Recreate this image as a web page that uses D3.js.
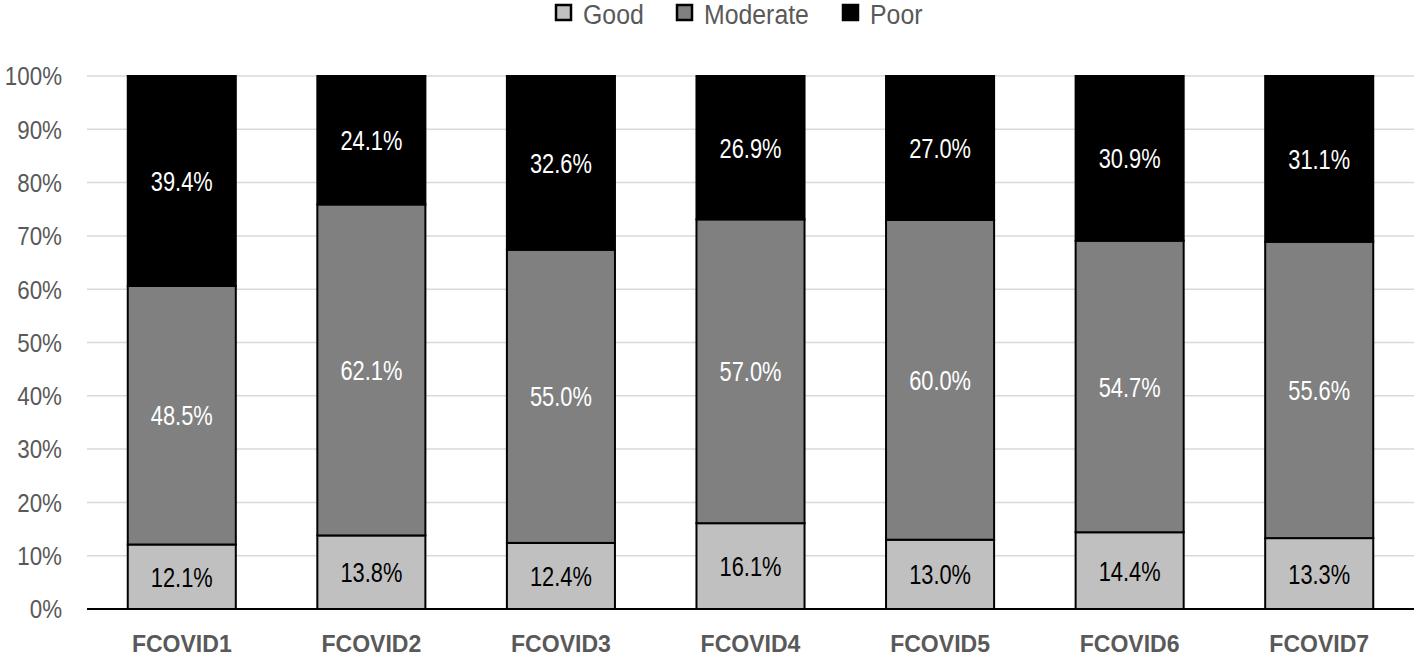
<!DOCTYPE html>
<html><head><meta charset="utf-8">
<script src="https://cdn.jsdelivr.net/npm/d3@7"></script>
<style>body{margin:0;background:#fff}svg{display:block}text{font-family:"Liberation Sans",Arial,sans-serif}</style>
</head><body><svg id="c" width="1416" height="659"></svg>
<script>
const categories = ["FCOVID1","FCOVID2","FCOVID3","FCOVID4","FCOVID5","FCOVID6","FCOVID7"];
const seriesNames = ["Good","Moderate","Poor"];
const good = [12.1,13.8,12.4,16.1,13.0,14.4,13.3];
const moderate = [48.5,62.1,55.0,57.0,60.0,54.7,55.6];
const poor = [39.4,24.1,32.6,26.9,27.0,30.9,31.1];
const yTicks = [0,10,20,30,40,50,60,70,80,90,100];
const colors = {Good:"#c0c0c0", Moderate:"#808080", Poor:"#000000"};
const labelColors = {Good:"#000", Moderate:"#fff", Poor:"#fff"};

const svg = d3.select("#c");
const m = {l:87, r:2};
const W = 1416;
const x = d3.scaleBand().domain(categories).range([m.l, W-m.r]).paddingInner(0.43).paddingOuter(0.215);
const y = d3.scaleLinear().domain([0,100]).range([609, 76]);

const rows = categories.map((c,i)=>({cat:c, Good:good[i], Moderate:moderate[i], Poor:poor[i]}));
const stack = d3.stack().keys(seriesNames)(rows);
const tf = (px,py,sx)=>`translate(${px},${py}) scale(${sx},1)`;

// gridlines
svg.append("g").selectAll("line").data(yTicks.filter(d=>d>0)).join("line")
  .attr("x1", m.l).attr("x2", W-m.r).attr("y1", d=>y(d)).attr("y2", d=>y(d))
  .attr("stroke","#d9d9d9").attr("stroke-width",1.5);

// y tick labels
svg.append("g").selectAll("text").data(yTicks).join("text")
  .attr("transform", d=>tf(62, y(d), 0.86)).attr("dy","0.36em").attr("text-anchor","end")
  .attr("fill","#595959").attr("font-size",26).text(d=>d+"%");

// bars
const g = svg.append("g");
stack.forEach(s=>{
  g.append("g").selectAll("rect").data(s).join("rect")
    .attr("x", d=>x(d.data.cat)).attr("width", x.bandwidth())
    .attr("y", d=>y(d[1])).attr("height", d=>y(d[0])-y(d[1]))
    .attr("fill", colors[s.key]).attr("stroke","#000").attr("stroke-width",2);
  g.append("g").selectAll("text").data(s).join("text")
    .attr("transform", d=>tf(x(d.data.cat)+x.bandwidth()/2, y((d[0]+d[1])/2), 0.78)).attr("dy","0.36em")
    .attr("text-anchor","middle").attr("font-size",28).attr("fill", labelColors[s.key])
    .text(d=>d.data[s.key].toFixed(1)+"%");
});

// x axis line
svg.append("line").attr("x1", m.l).attr("x2", W-m.r).attr("y1", y(0)).attr("y2", y(0))
  .attr("stroke","#000").attr("stroke-width",2);

// x labels
svg.append("g").selectAll("text").data(categories).join("text")
  .attr("transform", d=>tf(x(d)+x.bandwidth()/2, 652, 0.96)).attr("text-anchor","middle")
  .attr("font-size",24).attr("font-weight","bold").attr("fill","#595959").text(d=>d);

// legend
const legendX = [556, 677, 843];
const lg = svg.append("g");
seriesNames.forEach((n,i)=>{
  lg.append("rect").attr("x", legendX[i]).attr("y", 5).attr("width",15).attr("height",15)
    .attr("fill", colors[n]).attr("stroke","#000").attr("stroke-width",2.5);
  lg.append("text").attr("transform", tf(legendX[i]+27, 24, 0.92))
    .attr("font-size",27).attr("fill","#595959").text(n);
});
</script></body></html>
